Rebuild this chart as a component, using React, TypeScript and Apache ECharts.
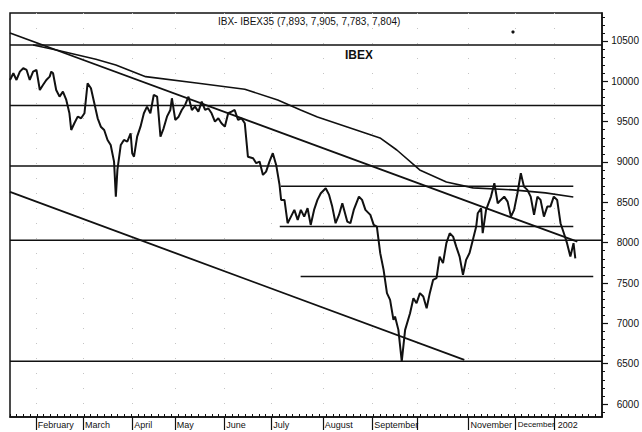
import React, { useEffect, useRef } from "react";
import * as echarts from "echarts";

// ---- text ----
const titleText = "IBX- IBEX35 (7,893, 7,905, 7,783, 7,804)";
const indexLabel = "IBEX";

// ---- x axis: trading-day index ----
const DAY_MIN = 0;
const DAY_MAX = 264;
const monthStarts = [11.5, 32.5, 54.5, 73.5, 95.5, 116.5, 139.5, 161.5, 181.5, 204.5, 225.5, 242.5];
const monthNames = ["February", "March", "April", "May", "June", "July", "August", "September", "", "November", "December", "2002"];
const yearStart = 242.5;
const yearLabel = "2002";

// ---- y axis ----
const Y_MIN = 5839;
const Y_MAX = 10847;
const yTickValues = [6000, 6500, 7000, 7500, 8000, 8500, 9000, 9500, 10000, 10500];
const yLabelTexts = ["6000", "6500", "7000", "7500", "8000", "8500", "9000", "9500", "10000", "10500"];

// ---- price (trading day, close) ----
const price: [number, number][] = [
  [0, 10017], [1.5, 10100], [2.9, 10017], [4.4, 10120], [5.9, 10162], [7.4, 10141], [8.8, 10017],
  [10.3, 10120], [11.8, 10141], [13.3, 9893], [14.7, 9955], [16.2, 10017], [17.7, 10058], [18.4, 10120],
  [19.2, 10100], [20.6, 9893], [22.1, 9810], [23.6, 9872], [25.1, 9769], [26.5, 9604], [27.3, 9397],
  [28.7, 9480], [30.2, 9562], [31.7, 9542], [33.2, 9604], [34.6, 9976], [36.1, 9914], [37.6, 9728],
  [39.1, 9542], [40.5, 9438], [42, 9397], [43.5, 9273], [44.9, 9211], [46.4, 9005], [47.2, 8571],
  [47.9, 8902], [49.4, 9211], [50.8, 9273], [52.3, 9252], [53.8, 9356], [54.5, 9109], [55.3, 9066],
  [56.7, 9314], [58.2, 9438], [59.7, 9604], [61.1, 9686], [62.6, 9604], [64.1, 9831], [65.6, 9810],
  [67.1, 9314], [68.5, 9418], [70, 9562], [71.5, 9645], [72.2, 9790], [73.7, 9521], [75.2, 9562],
  [76.6, 9645], [78.1, 9707], [79.6, 9810], [81.1, 9645], [82.5, 9686], [84, 9624], [85.5, 9748],
  [87, 9645], [88.4, 9666], [89.9, 9604], [91.4, 9500], [92.9, 9542], [94.3, 9480], [95.8, 9438],
  [97.3, 9604], [98.8, 9624], [100.2, 9645], [101.7, 9521], [103.2, 9542], [104.7, 9480],
  [106.1, 9066], [108.4, 9047], [109.8, 8985], [111.3, 9005], [112.8, 8840], [114.2, 8881],
  [115.7, 9005], [117.2, 9109], [118.7, 8964], [120.2, 8716], [120.9, 8530], [122.4, 8530],
  [123.8, 8241], [125.3, 8323], [126.8, 8406], [128.3, 8282], [129.7, 8406], [131.2, 8323],
  [132.7, 8427], [134.1, 8220], [135.6, 8406], [137.1, 8530], [138.6, 8613], [140.8, 8675],
  [142.3, 8592], [143.7, 8447], [145.2, 8241], [146.7, 8344], [148.2, 8489], [150.4, 8261],
  [151.8, 8241], [153.3, 8406], [155.6, 8571], [157, 8530], [158.5, 8406], [160.7, 8344],
  [162.2, 8220], [163.6, 8199], [165.1, 7870], [166.6, 7663], [168.1, 7374], [169.5, 7291],
  [171, 7043], [171.7, 7084], [173.2, 6919], [174.7, 6527], [176.2, 6919], [178.4, 7126],
  [179.9, 7312], [181.3, 7250], [182.8, 7374], [184.3, 7332], [185.8, 7188], [187.2, 7374],
  [188.7, 7539], [190.2, 7560], [191.6, 7827], [193.1, 7746], [194.6, 7994], [196.1, 8117],
  [197.6, 8075], [199, 7951], [200.5, 7827], [202, 7601], [203.4, 7787], [204.9, 7870],
  [206.4, 8034], [207.9, 8199], [208.6, 8365], [210.1, 8427], [210.8, 8117], [212.3, 8406],
  [214.5, 8571], [216, 8737], [217.5, 8489], [218.9, 8530], [220.4, 8571], [221.9, 8509],
  [223.4, 8323], [224.8, 8406], [226.3, 8613], [227.8, 8861], [229.2, 8695], [230.7, 8654],
  [232.2, 8571], [233.7, 8344], [235.2, 8571], [236.6, 8530], [238.1, 8323], [239.6, 8447],
  [241, 8447], [242.5, 8571], [244, 8530], [245.5, 8241], [247, 8117], [248.4, 7994],
  [249.9, 7827], [251.3, 7994], [252.1, 7804],
];

// ---- long moving average ----
const movingAvg: [number, number][] = [
  [10.3, 10450], [20.7, 10388], [38.3, 10273], [47.2, 10203], [60.5, 10058], [84, 9976],
  [104.7, 9902], [119.4, 9769], [129.6, 9645], [137.1, 9558], [150.4, 9434], [165, 9298],
  [172.5, 9149], [182.7, 8902], [194.6, 8753], [206.5, 8679], [224.2, 8654], [238.8, 8617],
  [251.2, 8567],
];

// ---- trend lines ----
const upperTrend: [number, number][] = [[0, 10599], [253, 8012]];
const lowerTrend: [number, number][] = [[0, 8629], [202.6, 6547]];

// ---- horizontal levels ----
const fullLevels = [10450, 9700, 8950, 8030, 6530];
const partialLevelValues = [8700, 8200, 7580];
const partialLevelFrom = [120.8, 120.3, 129.6];
const partialLevelTo = [251.2, 251.2, 260.1];

export default function App() {
  const ref = useRef<HTMLDivElement>(null);

  useEffect(() => {
    if (!ref.current) return;
    const chart = echarts.init(ref.current, null, { renderer: "svg" });
    const font = "'Liberation Sans', Arial, sans-serif";
    const black = "#111111";

    const lineSeries = (name: string, data: [number, number][], width: number, z = 3) => ({
      type: "line",
      name,
      data,
      symbol: "none",
      showSymbol: false,
      silent: true,
      z,
      xAxisIndex: 0,
      yAxisIndex: 0,
      lineStyle: { color: black, width },
    });

    const series: any[] = [];
    fullLevels.forEach((lv, i) =>
      series.push(lineSeries("level" + i, [[DAY_MIN, lv], [DAY_MAX, lv]], 1.5, 2))
    );
    partialLevelValues.forEach((lv, i) =>
      series.push(lineSeries("partial" + i, [[partialLevelFrom[i], lv], [partialLevelTo[i], lv]], 1.5, 2))
    );
    series.push(lineSeries("upperTrend", upperTrend, 1.8, 3));
    series.push(lineSeries("lowerTrend", lowerTrend, 1.8, 3));
    series.push(lineSeries("movingAvg", movingAvg, 1.6, 4));
    series.push(lineSeries("price", price, 2, 5));

    const minorY: number[] = [];
    for (let v = 5900; v <= 10800; v += 100) if (v % 500 !== 0) minorY.push(v);

    const labelStarts = monthStarts.filter((_, i) => monthNames[i] !== "" && monthStarts[i] !== yearStart);
    const lastMonthIdx = monthStarts.indexOf(yearStart) - 1;

    const labelStyle = {
      show: true,
      align: "left",
      margin: 3,
      fontSize: 9,
      color: black,
      fontFamily: font,
      hideOverlap: false,
    };

    chart.setOption({
      animation: false,
      backgroundColor: "#ffffff",
      grid: { left: 10, right: 35, top: 13, bottom: 15, show: true, borderColor: black, borderWidth: 1.5, backgroundColor: "transparent" },
      xAxis: [
        {
          type: "value",
          min: DAY_MIN,
          max: DAY_MAX,
          interval: 3,
          position: "bottom",
          axisLine: { show: true, onZero: false, lineStyle: { color: black, width: 1.5 } },
          axisTick: { show: true, inside: true, length: 3, lineStyle: { color: black, width: 1 } },
          axisLabel: { show: false },
          splitLine: { show: false },
        },
        {
          type: "value",
          min: DAY_MIN,
          max: DAY_MAX,
          position: "bottom",
          axisLine: { show: false, onZero: false },
          axisTick: { show: true, customValues: monthStarts, length: 13, lineStyle: { color: black, width: 1.2 } },
          axisLabel: {
            ...labelStyle,
            padding: [0, 0, 0, 2],
            customValues: labelStarts,
            formatter: (val: number) => {
              const i = monthStarts.findIndex((m) => Math.abs(m - val) < 0.01);
              if (i < 0) return "";
              return i === lastMonthIdx ? "{n|" + monthNames[i] + "}" : monthNames[i];
            },
            rich: { n: { fontSize: 8, fontFamily: font, color: black } },
          },
          splitLine: { show: true, lineStyle: { type: [1, 14], color: "#c4c4c4", width: 1 } },
        },
        {
          type: "value",
          min: DAY_MIN,
          max: DAY_MAX,
          position: "bottom",
          axisLine: { show: false, onZero: false },
          axisTick: { show: false },
          axisLabel: {
            ...labelStyle,
            padding: [0, 0, 0, 4],
            customValues: [yearStart],
            formatter: () => yearLabel,
          },
          splitLine: { show: false },
        },
      ],
      yAxis: [
        {
          type: "value",
          min: Y_MIN,
          max: Y_MAX,
          position: "right",
          axisLine: { show: true, onZero: false, lineStyle: { color: black, width: 1.5 } },
          axisTick: { show: true, customValues: yTickValues, length: 6, lineStyle: { color: black, width: 1.2 } },
          axisLabel: {
            show: true,
            customValues: yTickValues,
            formatter: (val: number) => {
              const i = yTickValues.indexOf(Math.round(val));
              return i >= 0 ? yLabelTexts[i] : "";
            },
            align: "right",
            margin: 37,
            fontSize: 10,
            color: black,
            fontFamily: font,
          },
          splitLine: { show: false },
        },
        {
          type: "value",
          min: Y_MIN,
          max: Y_MAX,
          position: "right",
          axisLine: { show: false, onZero: false },
          axisTick: { show: true, customValues: minorY, length: 3, lineStyle: { color: black, width: 1 } },
          axisLabel: { show: false },
          splitLine: { show: false },
        },
      ],
      graphic: [
        {
          type: "text",
          left: 218,
          top: 16,
          style: { text: titleText, fontSize: 10, fontFamily: font, fill: black },
        },
        {
          type: "text",
          left: 345,
          top: 49,
          style: { text: indexLabel, fontSize: 12, fontWeight: "bold", fontFamily: font, fill: black },
        },
        {
          type: "circle",
          shape: { cx: 513, cy: 32, r: 1.6 },
          style: { fill: black },
        },
      ],
      series,
    });

    return () => chart.dispose();
  }, []);

  return (
    <div
      ref={ref}
      style={{ position: "absolute", left: 0, top: 0, width: 642, height: 432, background: "#fff" }}
    />
  );
}
